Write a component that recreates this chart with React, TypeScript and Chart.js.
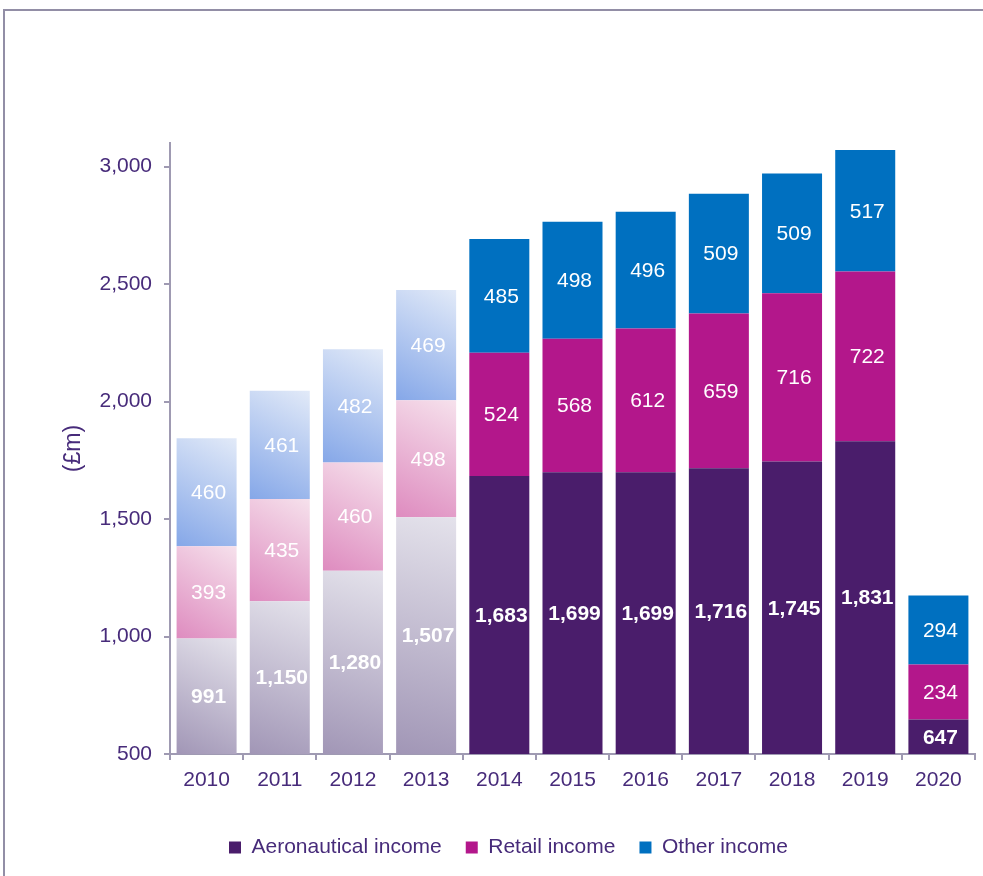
import React, { useEffect, useRef } from 'react';
import { Chart, registerables } from 'chart.js';

Chart.register(...registerables);

const years = ['2010', '2011', '2012', '2013', '2014', '2015', '2016', '2017', '2018', '2019', '2020'];
const aeronautical = [991, 1150, 1280, 1507, 1683, 1699, 1699, 1716, 1745, 1831, 647];
const retail = [393, 435, 460, 498, 524, 568, 612, 659, 716, 722, 234];
const other = [460, 461, 482, 469, 485, 498, 496, 509, 509, 517, 294];
const yTickValues = [500, 1000, 1500, 2000, 2500, 3000];
const seriesNames = ['Aeronautical income', 'Retail income', 'Other income'];
const FADED_YEARS = 4;

const FONT = '"Liberation Sans", Arial, sans-serif';
const TEXT = '#472b7a';
const AXIS = '#9f9ab2';
const solidColors = ['#4a1d6b', '#b3178b', '#0070c0'];
const fadedColors = [
  ['#a196b6', '#e4e2eb'],
  ['#de8bbf', '#f6e1ec'],
  ['#85a7e8', '#e2eaf8'],
];

const allSeries = [aeronautical, retail, other];

function fmt(v: number): string {
  return String(v).replace(/\B(?=(\d{3})+(?!\d))/g, ',');
}

function makeBg(k: number) {
  return (ctx: any) => {
    if (ctx.type !== 'data') return solidColors[k];
    const i = ctx.dataIndex;
    if (i >= FADED_YEARS) return solidColors[k];
    const chart = ctx.chart;
    const xs = chart.scales.x;
    const ys = chart.scales.y;
    if (!chart.chartArea || !xs || !ys) return fadedColors[k][1];
    let lo = 0;
    for (let j = 0; j < k; j++) lo += allSeries[j][i];
    const hi = lo + allSeries[k][i];
    const cx = xs.getPixelForValue(i);
    const half = (xs.width / years.length) * 0.82 / 2;
    const yTop = ys.getPixelForValue(hi);
    const yBot = Math.min(ys.getPixelForValue(lo), chart.chartArea.bottom);
    const g = chart.ctx.createLinearGradient(cx - half, yBot, cx + half, yTop);
    g.addColorStop(0, fadedColors[k][0]);
    g.addColorStop(1, fadedColors[k][1]);
    return g;
  };
}

const valueLabels = {
  id: 'valueLabels',
  afterDatasetsDraw(chart: any) {
    const { ctx, chartArea } = chart;
    ctx.save();
    ctx.fillStyle = '#ffffff';
    ctx.textAlign = 'center';
    ctx.textBaseline = 'middle';
    chart.data.datasets.forEach((ds: any, k: number) => {
      const meta = chart.getDatasetMeta(k);
      meta.data.forEach((el: any, i: number) => {
        const p = el.getProps(['x', 'y', 'base'], true);
        const bot = Math.min(p.base, chartArea.bottom);
        const top = Math.max(p.y, chartArea.top);
        ctx.font = (k === 0 ? 'bold ' : '') + '21px ' + FONT;
        ctx.fillText(fmt(ds.data[i]), p.x + 2, (top + bot) / 2 + 1);
      });
    });
    ctx.restore();
  },
};

export default function App() {
  const ref = useRef<HTMLCanvasElement | null>(null);

  useEffect(() => {
    if (!ref.current) return;
    const chart = new Chart(ref.current, {
      type: 'bar',
      data: {
        labels: years,
        datasets: seriesNames.map((name, k) => ({
          label: name,
          data: allSeries[k],
          backgroundColor: makeBg(k),
          borderWidth: 0,
          barPercentage: 0.82,
          categoryPercentage: 1,
        })),
      },
      options: {
        responsive: false,
        animation: false,
        layout: { padding: { left: 42, right: 8, top: 143, bottom: 8 } },
        plugins: {
          legend: {
            display: true,
            position: 'bottom',
            labels: {
              boxWidth: 12,
              boxHeight: 12,
              padding: 24,
              color: TEXT,
              font: { family: FONT, size: 21 },
              generateLabels: (c: any) =>
                seriesNames.map((name, k) => ({
                  text: name,
                  fillStyle: solidColors[k],
                  strokeStyle: solidColors[k],
                  lineWidth: 0,
                  fontColor: TEXT,
                  hidden: !c.isDatasetVisible(k),
                  datasetIndex: k,
                })),
            },
          },
          tooltip: { enabled: false },
          title: { display: false },
        },
        scales: {
          x: {
            stacked: true,
            afterFit: (scale: any) => {
              scale.height = 59;
            },
            border: { display: true, color: AXIS, width: 2 },
            grid: {
              offset: true,
              drawOnChartArea: false,
              drawTicks: true,
              tickLength: 6,
              color: AXIS,
              lineWidth: 2,
            },
            ticks: {
              color: TEXT,
              padding: 8,
              font: { family: FONT, size: 21 },
              maxRotation: 0,
            },
          },
          y: {
            stacked: true,
            min: 500,
            max: 3100,
            afterFit: (scale: any) => {
              scale.width = 128;
            },
            afterBuildTicks: (scale: any) => {
              scale.ticks = yTickValues.map((v) => ({ value: v }));
            },
            border: { display: true, color: AXIS, width: 2 },
            grid: {
              drawOnChartArea: false,
              drawTicks: true,
              tickLength: 6,
              color: AXIS,
              lineWidth: 2,
            },
            ticks: {
              color: TEXT,
              padding: 12,
              font: { family: FONT, size: 21 },
              callback: (v: any) => fmt(Number(v)),
            },
            title: {
              display: true,
              text: '(£m)',
              color: TEXT,
              font: { family: FONT, size: 23 },
              padding: { top: 18, bottom: 0 },
            },
          },
        },
      },
      plugins: [valueLabels],
    } as any);
    return () => chart.destroy();
  }, []);

  return (
    <div style={{ position: 'absolute', left: 0, top: 0, width: 983, height: 876, overflow: 'hidden', background: '#fff' }}>
      <canvas ref={ref} width={983} height={876} style={{ position: 'absolute', left: 0, top: 0, width: 983, height: 876 }} />
      <div
        style={{
          position: 'absolute',
          left: 3,
          top: 9,
          width: 980,
          height: 867,
          boxSizing: 'border-box',
          borderTop: '2px solid #928ea6',
          borderLeft: '2px solid #928ea6',
          pointerEvents: 'none',
        }}
      />
    </div>
  );
}
